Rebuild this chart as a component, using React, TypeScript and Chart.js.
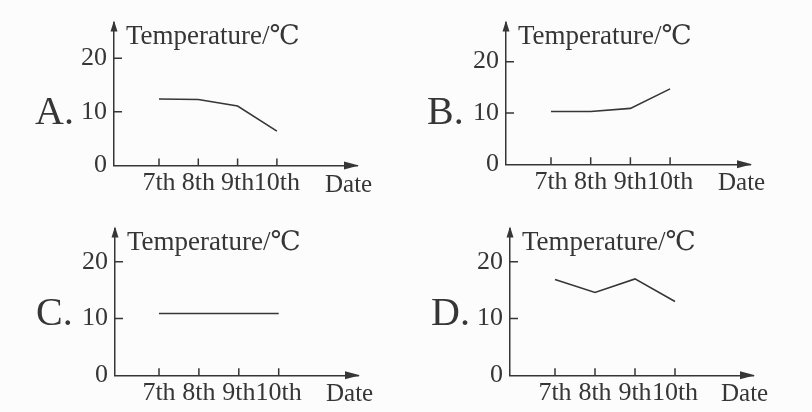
import { useEffect, useRef } from 'react';
import { Chart, registerables, Plugin } from 'chart.js';

Chart.register(...registerables);

// data
const dates = ['7th', '8th', '9th', '10th'];
const tempTicks = [0, 10, 20];
const tempA = [12.4, 12.3, 11.1, 6.4];
const tempB = [10.3, 10.3, 10.9, 14.7];
const tempC = [10.9, 10.9, 10.9, 10.9];
const tempD = [16.9, 14.6, 17.0, 13.0];

const INK = '#363636';
const SERIF = "'Liberation Serif', 'DejaVu Serif', 'Noto Sans CJK SC', serif";
const W = 406;
const H = 206;

interface Frame {
  left: number;   // y axis x position
  top: number;    // tip of the y arrow
  right: number;  // tip of the x arrow
  bottom: number; // x axis y position
  first: number;  // pixel of the first date
  step: number;   // pixels between dates
  unit: number;   // pixels per degree
  letterY: number;
}

const axisDecor: Plugin<'line'> = {
  id: 'axisDecor',
  afterDraw(chart, _args, opts: any) {
    const { ctx, chartArea } = chart;
    const { left, top, right, bottom } = chartArea;
    const x = chart.scales.x;
    const y = chart.scales.y;
    ctx.save();
    ctx.strokeStyle = INK;
    ctx.fillStyle = INK;
    ctx.lineWidth = 1.5;

    // tick marks point into the plot
    ctx.beginPath();
    x.ticks.forEach((t) => {
      const px = x.getPixelForValue(t.value);
      ctx.moveTo(px, bottom);
      ctx.lineTo(px, bottom - 7);
    });
    y.ticks.forEach((t) => {
      if (t.value === 0) return;
      const py = y.getPixelForValue(t.value);
      ctx.moveTo(left, py);
      ctx.lineTo(left + 8, py);
    });
    ctx.stroke();

    // arrow heads
    ctx.beginPath();
    ctx.moveTo(left, top - 2);
    ctx.lineTo(left - 3.5, top + 9);
    ctx.lineTo(left + 3.5, top + 9);
    ctx.closePath();
    ctx.fill();
    ctx.beginPath();
    ctx.moveTo(right + 2, bottom);
    ctx.lineTo(right - 13, bottom - 4);
    ctx.lineTo(right - 13, bottom + 4);
    ctx.closePath();
    ctx.fill();

    ctx.textAlign = 'left';
    ctx.textBaseline = 'alphabetic';
    ctx.font = `27px ${SERIF}`;
    ctx.fillText('Temperature/℃', left + 12, top + 21);
    ctx.font = `25px ${SERIF}`;
    ctx.fillText('Date', right - 32, bottom + 26);
    ctx.font = `40px ${SERIF}`;
    ctx.fillText(opts.letter, left - 79, opts.letterY);
    ctx.restore();
  },
};

function Panel({ letter, values, frame }: { letter: string; values: number[]; frame: Frame }) {
  const canvasRef = useRef<HTMLCanvasElement | null>(null);

  useEffect(() => {
    if (!canvasRef.current) return;
    const f = frame;
    const chart = new Chart(canvasRef.current, {
      type: 'line',
      data: {
        datasets: [{
          data: values.map((v, i) => ({ x: i, y: v })),
          borderColor: INK,
          borderWidth: 1.6,
          pointRadius: 0,
          tension: 0,
        }],
      },
      options: {
        responsive: true,
        maintainAspectRatio: false,
        animation: false,
        events: [],
        layout: { padding: { top: f.top, right: W - f.right, left: 0, bottom: 0 } },
        plugins: {
          legend: { display: false },
          tooltip: { enabled: false },
          axisDecor: { letter, letterY: f.letterY },
        } as any,
        scales: {
          x: {
            type: 'linear',
            min: -(f.first - f.left) / f.step,
            max: (f.right - f.first) / f.step,
            grid: { display: false, drawTicks: false },
            border: { display: true, color: INK, width: 1.5 },
            afterBuildTicks: (s) => { s.ticks = dates.map((_, i) => ({ value: i })); },
            afterFit: (s) => { s.height = H - f.bottom; },
            ticks: {
              autoSkip: false,
              maxRotation: 0,
              padding: 2,
              color: INK,
              font: { family: SERIF, size: 26 },
              callback: (v) => dates[Number(v)] ?? '',
            },
          },
          y: {
            type: 'linear',
            min: 0,
            max: (f.bottom - f.top) / f.unit,
            grid: { display: false, drawTicks: false },
            border: { display: true, color: INK, width: 1.5 },
            afterBuildTicks: (s) => { s.ticks = tempTicks.map((v) => ({ value: v })); },
            afterFit: (s) => { s.width = f.left; },
            ticks: {
              padding: 7,
              color: INK,
              font: { family: SERIF, size: 26 },
            },
          },
        },
      },
      plugins: [axisDecor],
    });
    return () => chart.destroy();
  }, [letter, values, frame]);

  return (
    <div style={{ width: W, height: H, position: 'relative' }}>
      <canvas ref={canvasRef} />
    </div>
  );
}

const frameA: Frame = { left: 114, top: 15, right: 357, bottom: 165.5, first: 159, step: 39.3, unit: 5.65, letterY: 124 };
const frameB: Frame = { left: 100, top: 13, right: 344, bottom: 164.3, first: 145, step: 39.7, unit: 5.48, letterY: 124 };
const frameC: Frame = { left: 115, top: 18, right: 358, bottom: 169.3, first: 159, step: 39.9, unit: 5.85, letterY: 119 };
const frameD: Frame = { left: 104, top: 18, right: 347, bottom: 169.3, first: 149, step: 40, unit: 5.85, letterY: 119 };

export default function App() {
  return (
    <div
      style={{
        position: 'fixed',
        left: 0,
        top: 0,
        width: 812,
        height: 412,
        background: '#fcfcfc',
        display: 'grid',
        gridTemplateColumns: `${W}px ${W}px`,
        gridTemplateRows: `${H}px ${H}px`,
      }}
    >
      <Panel letter="A." values={tempA} frame={frameA} />
      <Panel letter="B." values={tempB} frame={frameB} />
      <Panel letter="C." values={tempC} frame={frameC} />
      <Panel letter="D." values={tempD} frame={frameD} />
    </div>
  );
}
